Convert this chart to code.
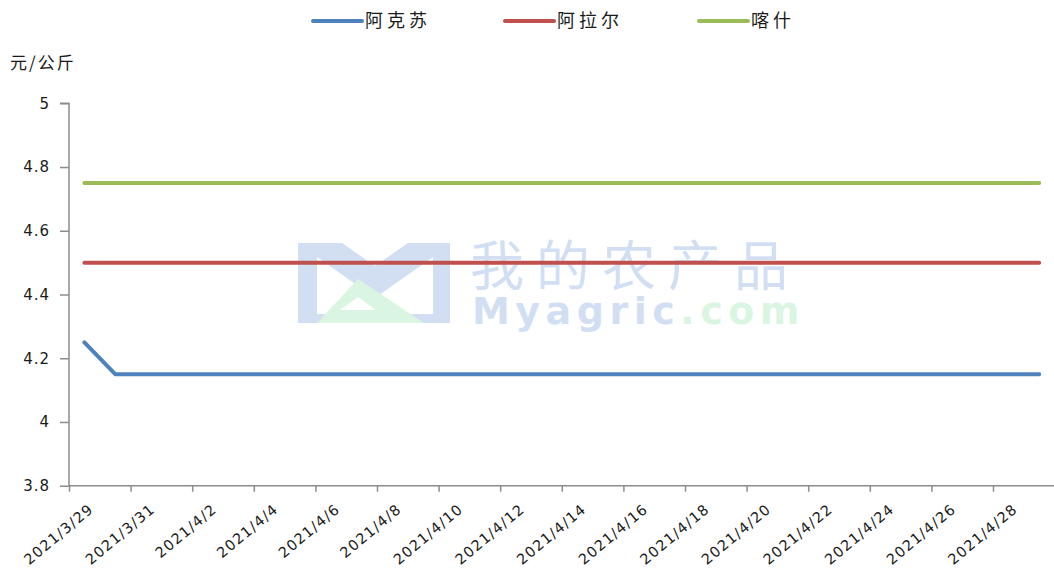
<!DOCTYPE html>
<html>
<head>
<meta charset="utf-8">
<script src="https://cdn.jsdelivr.net/npm/d3@7"></script>
<style>
  html, body { margin: 0; padding: 0; background: #fff; }
  svg { display: block; }
</style>
</head>
<body>
<div id="chart"></div>
<script>
// daily dates, 2021/3/29 .. 2021/4/29
const days = [
	"2021-03-29", "2021-03-30", "2021-03-31", "2021-04-01", "2021-04-02", "2021-04-03",
	"2021-04-04", "2021-04-05", "2021-04-06", "2021-04-07", "2021-04-08", "2021-04-09",
	"2021-04-10", "2021-04-11", "2021-04-12", "2021-04-13", "2021-04-14", "2021-04-15",
	"2021-04-16", "2021-04-17", "2021-04-18", "2021-04-19", "2021-04-20", "2021-04-21",
	"2021-04-22", "2021-04-23", "2021-04-24", "2021-04-25", "2021-04-26", "2021-04-27",
	"2021-04-28", "2021-04-29",
];

const seriesNames = ["阿克苏", "阿拉尔", "喀什"];
const seriesColors = ["#4F81BD", "#C0504D", "#9BBB59"];

const aksu = [
	4.25, 4.15, 4.15, 4.15, 4.15, 4.15, 4.15, 4.15, 4.15, 4.15, 4.15, 4.15, 4.15, 4.15, 4.15, 4.15,
	4.15, 4.15, 4.15, 4.15, 4.15, 4.15, 4.15, 4.15, 4.15, 4.15, 4.15, 4.15, 4.15, 4.15, 4.15, 4.15,
];
const alaer = [
	4.5, 4.5, 4.5, 4.5, 4.5, 4.5, 4.5, 4.5, 4.5, 4.5, 4.5, 4.5, 4.5, 4.5, 4.5, 4.5,
	4.5, 4.5, 4.5, 4.5, 4.5, 4.5, 4.5, 4.5, 4.5, 4.5, 4.5, 4.5, 4.5, 4.5, 4.5, 4.5,
];
const kashi = [
	4.75, 4.75, 4.75, 4.75, 4.75, 4.75, 4.75, 4.75, 4.75, 4.75, 4.75, 4.75, 4.75, 4.75, 4.75, 4.75,
	4.75, 4.75, 4.75, 4.75, 4.75, 4.75, 4.75, 4.75, 4.75, 4.75, 4.75, 4.75, 4.75, 4.75, 4.75, 4.75,
];

const xTickDays = [
	"2021-03-29", "2021-03-31", "2021-04-02", "2021-04-04", "2021-04-06", "2021-04-08",
	"2021-04-10", "2021-04-12", "2021-04-14", "2021-04-16", "2021-04-18", "2021-04-20",
	"2021-04-22", "2021-04-24", "2021-04-26", "2021-04-28",
];
const yTicks = [3.8, 4, 4.2, 4.4, 4.6, 4.8, 5];
const yTitle = "元/公斤";

const width = 1054;
const height = 572;
const margin = { top: 103.3, right: 0, bottom: 86.3, left: 69 };

const parse = d3.utcParse("%Y-%m-%d");
const fmt = d3.utcFormat("%Y/%-m/%-d");
const dates = days.map(parse);

const svg = d3
	.select("#chart")
	.append("svg")
	.attr("width", width)
	.attr("height", height)
	.attr("viewBox", [0, 0, width, height]);

// x: one band per day, axis runs to the end of the last day
const xScale = d3
	.scaleUtc()
	.domain([dates[0], d3.utcDay.offset(dates[dates.length - 1], 1)])
	.range([margin.left, width - margin.right + 0.6]);

const yScale = d3
	.scaleLinear()
	.domain([3.8, 5])
	.range([height - margin.bottom, margin.top]);

const mid = (d) => xScale(d3.utcHour.offset(d, 12));

// watermark (decoration, behind the lines)
const wm = svg.append("g").attr("class", "watermark").attr("opacity", 0.85);
wm.append("path")
	.attr("fill", "#cbdaf2")
	.attr("fill-rule", "evenodd")
	.attr(
		"d",
		"M298,243 L342,243 L375,266 L408,243 L450,243 L450,323 L298,323 Z " +
			"M317,257 L317,314 L433,314 L433,257 L375,298 Z"
	);
wm.append("path")
	.attr("fill", "#d4f4dc")
	.attr("fill-rule", "evenodd")
	.attr("d", "M317,323 L358,279 L424,323 Z M340,310 L358,297 L376,310 Z");
wm.append("text")
	.attr("x", 470)
	.attr("y", 286)
	.attr("font-family", "Noto Sans CJK SC")
	.attr("font-size", 54)
	.attr("letter-spacing", 12)
	.attr("fill", "#cbdaf2")
	.text("我的农产品");
const wmText = wm
	.append("text")
	.attr("x", 472)
	.attr("y", 324)
	.attr("font-family", "DejaVu Sans")
	.attr("font-weight", "bold")
	.attr("font-size", 38)
	.attr("letter-spacing", 5.5);
wmText.append("tspan").attr("fill", "#cbdaf2").text("Myagric");
wmText.append("tspan").attr("fill", "#d4f4dc").text(".com");

// axes
const axisColor = "#8c8c8c";

const yAxis = (g) => {
	g.attr("transform", `translate(${margin.left},0)`)
		.call(
			d3
				.axisLeft(yScale)
				.tickValues(yTicks)
				.tickSize(9)
				.tickPadding(10)
				.tickFormat(d3.format("~g"))
		)
		.call((g) => g.select(".domain").attr("stroke", axisColor).attr("stroke-width", 1.5).attr("d", `M-9,${yScale(5)}H0V${yScale(3.8)}`))
		.call((g) => g.selectAll(".tick line").attr("stroke", axisColor).attr("stroke-width", 1.5))
		.call((g) =>
			g
				.selectAll(".tick text")
				.attr("fill", "#1a1a1a")
				.attr("font-family", "DejaVu Sans")
				.attr("font-size", 15)
				.attr("letter-spacing", 1)
		);
};

const xAxis = (g) => {
	g.attr("transform", `translate(0,${height - margin.bottom})`)
		.call(
			d3
				.axisBottom(xScale)
				.tickValues(xTickDays.map(parse))
				.tickSize(6)
				.tickFormat(fmt)
		)
		.call((g) => g.select(".domain").attr("stroke", axisColor).attr("stroke-width", 1.5).attr("d", `M${margin.left},0H${width}`))
		.call((g) => g.selectAll(".tick line").attr("stroke", axisColor).attr("stroke-width", 1.5))
		.call((g) =>
			g
				.selectAll(".tick text")
				.attr("fill", "#1a1a1a")
				.attr("font-family", "DejaVu Sans")
				.attr("font-size", 14.5)
				.attr("letter-spacing", 1.2)
				.attr("text-anchor", "end")
				.attr("dy", null)
				.attr("transform", "translate(25,25) rotate(-40)")
				.attr("y", 0)
		);
};

svg.append("g").call(xAxis);
svg.append("g").call(yAxis);

// y title
svg.append("text")
	.attr("x", 10)
	.attr("y", 69)
	.attr("font-family", "Noto Sans CJK SC")
	.attr("font-size", 17)
	.attr("letter-spacing", 2)
	.attr("fill", "#1a1a1a")
	.text(yTitle);

// lines
const seriesValues = [aksu, alaer, kashi];
const line = d3
	.line()
	.x((d, i) => mid(dates[i]))
	.y((d) => yScale(d));

svg.append("g")
	.selectAll("path")
	.data(seriesValues)
	.join("path")
	.attr("fill", "none")
	.attr("stroke", (d, i) => seriesColors[i])
	.attr("stroke-width", 4)
	.attr("stroke-linejoin", "round")
	.attr("stroke-linecap", "round")
	.attr("d", line);

// legend
const legendX = [313, 505, 699];
const legend = svg
	.append("g")
	.selectAll("g")
	.data(seriesNames)
	.join("g")
	.attr("transform", (d, i) => `translate(${legendX[i]},21)`);

legend
	.append("line")
	.attr("x1", 0)
	.attr("x2", 49)
	.attr("stroke", (d, i) => seriesColors[i])
	.attr("stroke-width", 4)
	.attr("stroke-linecap", "round");

legend
	.append("text")
	.attr("x", 52)
	.attr("dy", "0.36em")
	.attr("font-family", "Noto Sans CJK SC")
	.attr("font-size", 18)
	.attr("letter-spacing", 4)
	.attr("fill", "#1a1a1a")
	.text((d) => d);
</script>
</body>
</html>
